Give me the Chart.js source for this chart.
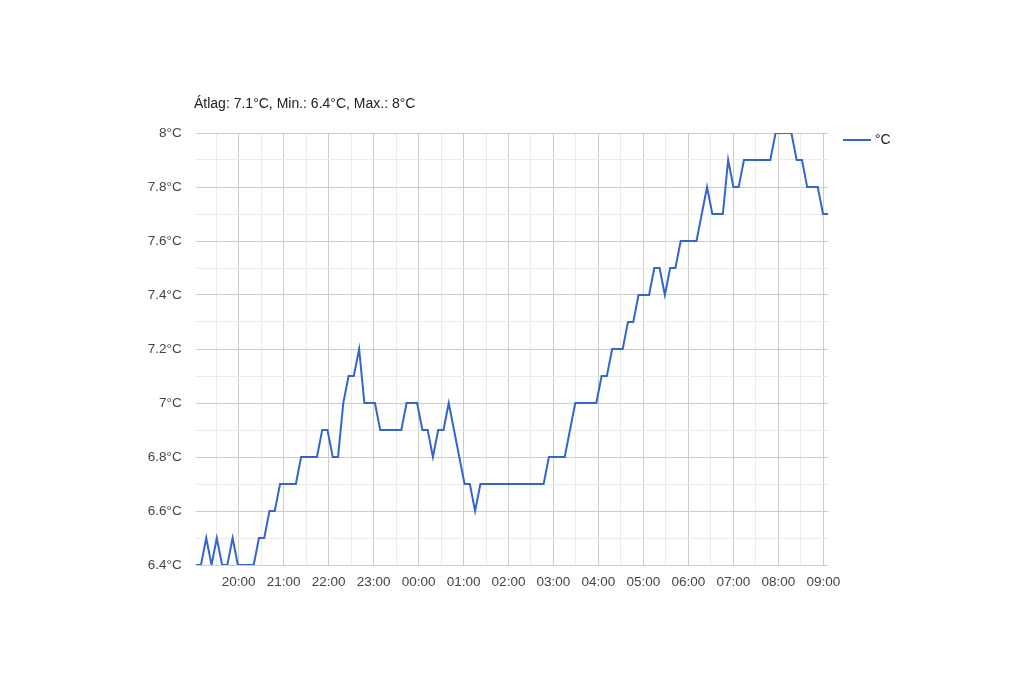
<!DOCTYPE html>
<html>
<head>
<meta charset="utf-8">
<script src="https://cdn.jsdelivr.net/npm/chart.js@4.4.0/dist/chart.umd.min.js"></script>
<style>
	body { margin: 0; background: #fff; }
</style>
</head>
<body>
<canvas id="homerseklet" width="1024" height="699"></canvas>
<script>
// mérés kezdete és a mintavétel lépése
const kezdes = "19:02:40";
const lepesMasodperc = 422;

// hőmérséklet (°C)
const homerseklet = [
	6.4, 6.4, 6.5, 6.4, 6.5, 6.4, 6.4, 6.5, 6.4, 6.4,
	6.4, 6.4, 6.5, 6.5, 6.6, 6.6, 6.7, 6.7, 6.7, 6.7,
	6.8, 6.8, 6.8, 6.8, 6.9, 6.9, 6.8, 6.8, 7.0, 7.1,
	7.1, 7.2, 7.0, 7.0, 7.0, 6.9, 6.9, 6.9, 6.9, 6.9,
	7.0, 7.0, 7.0, 6.9, 6.9, 6.8, 6.9, 6.9, 7.0, 6.9,
	6.8, 6.7, 6.7, 6.6, 6.7, 6.7, 6.7, 6.7, 6.7, 6.7,
	6.7, 6.7, 6.7, 6.7, 6.7, 6.7, 6.7, 6.8, 6.8, 6.8,
	6.8, 6.9, 7.0, 7.0, 7.0, 7.0, 7.0, 7.1, 7.1, 7.2,
	7.2, 7.2, 7.3, 7.3, 7.4, 7.4, 7.4, 7.5, 7.5, 7.4,
	7.5, 7.5, 7.6, 7.6, 7.6, 7.6, 7.7, 7.8, 7.7, 7.7,
	7.7, 7.9, 7.8, 7.8, 7.9, 7.9, 7.9, 7.9, 7.9, 7.9,
	8.0, 8.0, 8.0, 8.0, 7.9, 7.9, 7.8, 7.8, 7.8, 7.7,
	7.7
];

const yFo = [6.4, 6.6, 6.8, 7.0, 7.2, 7.4, 7.6, 7.8, 8.0];
const cim = "Átlag: 7.1°C, Min.: 6.4°C, Max.: 8°C";
const sorozatNev = "°C";

function percbe(s) {
	let r = s.split(":").map(Number);
	return r[0] * 60 + r[1] + r[2] / 60;
}

let t0 = percbe(kezdes);
let pontok = homerseklet.map((v, i) => ({ x: t0 + i * lepesMasodperc / 60, y: v }));
let tVege = pontok[pontok.length - 1].x;

function ketJegy(n) { return (n < 10 ? "0" : "") + n; }

let szoveg = {
	id: "szoveg",
	afterDraw(chart) {
		let ctx = chart.ctx;
		ctx.save();
		ctx.font = "14px 'Liberation Sans', Arial, sans-serif";
		ctx.fillStyle = "#222";
		ctx.textBaseline = "alphabetic";
		ctx.textAlign = "left";
		ctx.fillText(cim, 194, 108);
		// jelmagyarázat
		ctx.strokeStyle = "#3366cc";
		ctx.lineWidth = 2;
		ctx.beginPath();
		ctx.moveTo(843, 140);
		ctx.lineTo(871, 140);
		ctx.stroke();
		ctx.textBaseline = "middle";
		ctx.fillText(sorozatNev, 875, 140);
		ctx.restore();
	}
};

const betu = { family: "'Liberation Sans', Arial, sans-serif", size: 13.5 };

let grafikon = new Chart("homerseklet", {
	type: "line",
	data: {
		datasets: [{
			label: sorozatNev,
			data: pontok,
			borderColor: "#3366cc",
			borderWidth: 2,
			pointRadius: 0,
			tension: 0,
			fill: false
		}]
	},
	options: {
		responsive: false,
		animation: false,
		layout: { padding: { top: 133, right: 195.7, bottom: 0, left: 0 } },
		plugins: {
			legend: { display: false },
			tooltip: { enabled: false }
		},
		scales: {
			x: {
				type: "linear",
				min: t0,
				max: tVege,
				afterBuildTicks: function (s) {
					let t = [];
					for (let v = Math.ceil(t0 / 30) * 30; v <= tVege; v += 30) t.push({ value: v });
					s.ticks = t;
				},
				afterFit: function (s) { s.height = 134; },
				ticks: {
					autoSkip: false,
					maxRotation: 0,
					color: "#444",
					font: betu,
					padding: 9,
					callback: function (v) {
						if (v % 60 !== 0) return "";
						return ketJegy(Math.floor(v / 60) % 24) + ":00";
					}
				},
				grid: {
					drawTicks: false,
					color: (c) => (c.tick && c.tick.value % 60 === 0) ? "#cccccc" : "#ebebeb"
				},
				border: { display: false }
			},
			y: {
				min: 6.4,
				max: 8.0,
				afterBuildTicks: function (s) {
					let t = [];
					yFo.forEach((v, i) => {
						t.push({ value: v });
						if (i < yFo.length - 1) t.push({ value: (v + yFo[i + 1]) / 2 });
					});
					s.ticks = t;
				},
				afterFit: function (s) { s.width = 195.7; },
				ticks: {
					autoSkip: false,
					color: "#444",
					font: betu,
					padding: 14,
					callback: function (v) {
						let r = Math.round(v * 10);
						if (r % 2 !== 0) return "";
						return String(r / 10) + "°C";
					}
				},
				grid: {
					drawTicks: false,
					color: (c) => (c.tick && Math.round(c.tick.value * 10) % 2 === 0) ? "#cccccc" : "#ebebeb"
				},
				border: { display: false }
			}
		}
	},
	plugins: [szoveg]
});
</script>
</body>
</html>
